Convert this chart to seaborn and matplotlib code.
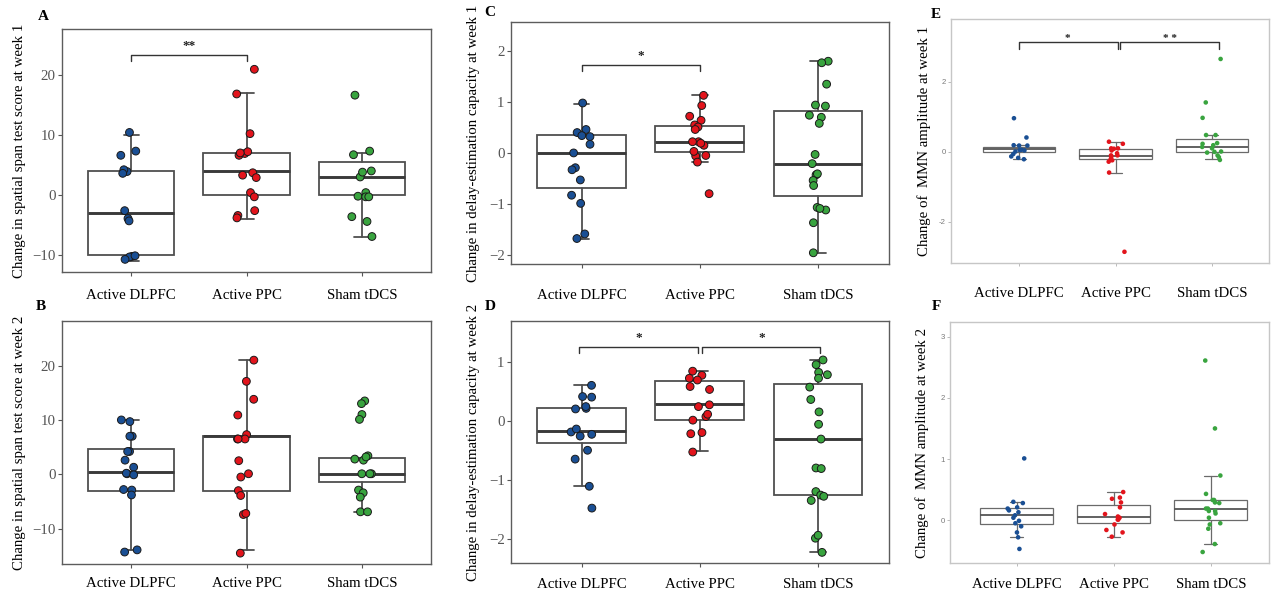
import numpy as np
import pandas as pd
import matplotlib
matplotlib.use("Agg")
import matplotlib.pyplot as plt
import seaborn as sns

sns.set_style("white")
plt.rcParams["font.family"] = ["Liberation Serif", "DejaVu Serif"]
plt.rcParams["axes.unicode_minus"] = True

groups = ["Active DLPFC", "Active PPC", "Sham tDCS"]
palette = ["#1a4f94", "#e2141c", "#39a43f"]

# ---------------- Panel A (spatial span, week 1)
A_dlpfc = [10.4, 7.3, 6.6, 3.9, 4.2, 3.6, -2.6, -3.9, -4.3, -10.2, -10.3, -10.1, -10.7]
A_ppc = [20.9, 16.8, 10.2, 6.9, 7.2, 6.6, 7.0, 3.7, 2.9, 3.3, 0.4, -0.3, -2.6, -3.4, -3.8]
A_sham = [16.6, 7.3, 6.7, 3.0, 4.0, 3.8, 0.4, -0.2, -0.3, -0.3, -3.6, -4.4, -6.9]
A_q1 = [-10, 0, 0]
A_med = [-3, 4, 3]
A_q3 = [4, 7, 5.5]
A_lo = [-11, -4, -7]
A_hi = [10, 17, 7]

# ---------------- Panel B (spatial span, week 2)
B_dlpfc = [9.7, 10.0, 7.0, 7.0, 4.2, 4.2, 2.6, 1.3, 0.1, 0.2, -0.1, -2.9, -2.8, -3.8, -14.3, -13.9]
B_ppc = [21.0, 17.1, 13.8, 10.9, 7.3, 6.5, 6.5, 6.5, 2.5, 0.1, -0.5, -3.0, -3.9, -7.4, -7.2, -14.5]
B_sham = [13.5, 13.0, 11.0, 10.1, 3.4, 2.6, 2.8, 3.2, 0.1, 0.1, 0.1, -2.9, -3.4, -4.2, -6.9, -6.9]
B_q1 = [-3, -3, -1.5]
B_med = [0.5, 7, 0]
B_q3 = [4.7, 7, 3]
B_lo = [-14, -14, -7]
B_hi = [10, 21, 3]

# ---------------- Panel C (delay-estimation, week 1)
C_dlpfc = [0.98, 0.46, 0.40, 0.34, 0.32, 0.17, 0.0, -0.29, -0.33, -0.53, -0.83, -0.99, -1.59, -1.68]
C_ppc = [1.13, 0.93, 0.72, 0.64, 0.55, 0.51, 0.46, 0.15, 0.22, 0.22, 0.19, -0.05, -0.06, 0.03, -0.18, -0.80]
C_sham = [1.80, 1.77, 1.35, 0.92, 0.94, 0.74, 0.70, 0.58, -0.03, -0.21, -0.43, -0.41, -0.54, -0.64,
          -1.07, -1.12, -1.09, -1.37, -1.96]
C_q1 = [-0.68, 0.01, -0.85]
C_med = [0.0, 0.21, -0.21]
C_q3 = [0.36, 0.53, 0.83]
C_lo = [-1.69, -0.17, -1.96]
C_hi = [0.97, 1.13, 1.80]

# ---------------- Panel D (delay-estimation, week 2)
D_dlpfc = [0.61, 0.42, 0.41, 0.22, 0.25, 0.21, -0.22, -0.18, -0.13, -0.25, -0.49, -0.64, -1.10, -1.47]
D_ppc = [0.85, 0.78, 0.73, 0.70, 0.59, 0.54, 0.25, 0.28, 0.08, 0.12, 0.02, -0.21, -0.19, -0.52]
D_sham = [1.04, 0.96, 0.83, 0.79, 0.73, 0.58, 0.37, 0.16, -0.05, -0.30, -0.79, -0.80, -1.19, -1.25,
          -1.27, -1.34, -1.98, -1.93, -2.22]
D_q1 = [-0.37, 0.02, -1.25]
D_med = [-0.17, 0.29, -0.30]
D_q3 = [0.23, 0.69, 0.64]
D_lo = [-1.10, -0.51, -2.22]
D_hi = [0.61, 0.85, 1.04]

# ---------------- Panel E (MMN, week 1)
E_dlpfc = [0.96, 0.41, 0.19, 0.18, 0.18, 0.06, 0.04, 0.05, 0.01, -0.06, -0.13, -0.21, -0.17]
E_ppc = [0.29, 0.23, 0.10, 0.09, 0.04, 0.10, -0.04, -0.10, -0.10, -0.13, -0.20, -0.24, -0.28, -0.59, -2.85]
E_sham = [2.65, 1.41, 0.97, 0.48, 0.48, 0.25, 0.23, 0.19, 0.14, 0.10, 0.0, 0.01, -0.02, -0.10, -0.15, -0.23]
E_q1 = [-0.01, -0.21, -0.01]
E_med = [0.07, -0.12, 0.15]
E_q3 = [0.15, 0.08, 0.36]
E_lo = [-0.20, -0.59, -0.21]
E_hi = [0.20, 0.29, 0.48]

# ---------------- Panel F (MMN, week 2)
F_dlpfc = [1.01, 0.30, 0.28, 0.19, 0.16, 0.13, 0.21, 0.08, 0.04, -0.01, -0.05, -0.10, -0.20, -0.28, -0.47]
F_ppc = [0.46, 0.37, 0.35, 0.29, 0.21, 0.10, 0.06, 0.04, 0.01, 0.01, -0.07, -0.16, -0.20, -0.27]
F_sham = [2.61, 1.50, 0.73, 0.43, 0.33, 0.33, 0.29, 0.28, 0.19, 0.19, 0.15, 0.11, 0.15, 0.04, -0.05,
          -0.07, -0.14, -0.39, -0.52]
F_q1 = [-0.07, -0.05, 0.0]
F_med = [0.08, 0.05, 0.19]
F_q3 = [0.20, 0.25, 0.33]
F_lo = [-0.28, -0.27, -0.39]
F_hi = [0.30, 0.46, 0.73]

W, H = 1282, 598
fig = plt.figure(figsize=(W / 100, H / 100), dpi=100)


def make_ax(l, r, t, b):
    return fig.add_axes([l / W, 1 - b / H, (r - l) / W, (b - t) / H])


def panel(ax, values, q1, med, q3, lo, hi, mmn=False, seed=0):
    df = pd.DataFrame({
        "group": np.repeat(groups, [len(v) for v in values]),
        "value": np.concatenate([np.asarray(v, float) for v in values]),
    })
    stats = [dict(q1=q1[i], med=med[i], q3=q3[i], whislo=lo[i], whishi=hi[i], fliers=[])
             for i in range(3)]
    if mmn:
        ec, lw, mc, mlw = "#6a6a6a", 0.9, "#555555", 1.3
    else:
        ec, lw, mc, mlw = "#4f4f4f", 1.3, "#3a3a3a", 2.1
    ax.bxp(stats, positions=[0, 1, 2], widths=0.75, capwidths=0.13, showfliers=False,
           patch_artist=True, manage_ticks=False,
           boxprops=dict(facecolor="white", edgecolor=ec, linewidth=lw),
           medianprops=dict(color=mc, linewidth=mlw),
           whiskerprops=dict(color=ec, linewidth=lw),
           capprops=dict(color=ec, linewidth=lw), zorder=2)
    np.random.seed(seed)
    if mmn:
        sns.stripplot(data=df, x="group", y="value", hue="group", order=groups, hue_order=groups,
                      palette=palette, jitter=0.1, size=3.3, linewidth=0, legend=False, ax=ax, zorder=3)
    else:
        sns.stripplot(data=df, x="group", y="value", hue="group", order=groups, hue_order=groups,
                      palette=palette, jitter=0.09, size=5.6, linewidth=0.7, edgecolor="#1a1a1a",
                      legend=False, ax=ax, zorder=3)
    ax.set_xlabel("")
    spc = "#c6c6c6" if mmn else "#5c5c5c"
    for s in ax.spines.values():
        s.set_visible(True)
        s.set_color(spc)
        s.set_linewidth(1.0)


def style(ax, ylabel, xlim, ylim, yticks, xpad, ylabelpad, mmn=False, yticklabels=None):
    ax.set_xlim(*xlim)
    ax.set_ylim(*ylim)
    ax.set_xticks([0, 1, 2])
    ax.set_xticklabels(groups)
    ax.set_yticks(yticks)
    if yticklabels is not None:
        ax.set_yticklabels(yticklabels)
    if mmn:
        ax.tick_params(axis="y", labelsize=5.6, labelcolor="#7a7a7a", color="#b0b0b0",
                       length=2, width=0.6, pad=1.5, left=True)
        ax.tick_params(axis="y", labelfontfamily="Liberation Sans")
        ax.tick_params(axis="x", labelsize=10.7, labelcolor="black", color="#b0b0b0",
                       length=2, width=0.6, pad=xpad, bottom=True)
    else:
        ax.tick_params(axis="y", labelsize=10.7, labelcolor="#555555", color="#555555",
                       length=3, width=0.8, pad=1.5, left=True)
        ax.tick_params(axis="x", labelsize=10.7, labelcolor="black", color="#555555",
                       length=3, width=0.8, pad=xpad, bottom=True)
    ax.set_ylabel(ylabel, fontsize=10.7, color="black", labelpad=ylabelpad)


def bracket(ax, x0, x1, ytop, ybot, text, xt, yt, fs=9.5):
    ax.plot([x0, x0, x1, x1], [ybot, ytop, ytop, ybot], color="#333333", lw=1.0, zorder=4,
            clip_on=False)
    ax.text(xt, yt, text, ha="center", va="center", fontsize=fs, color="#222222",
            fontweight="bold")


# A
axA = make_ax(62, 431, 29, 272)
panel(axA, [A_dlpfc, A_ppc, A_sham], A_q1, A_med, A_q3, A_lo, A_hi, seed=1)
style(axA, "Change in spatial span test score at week 1", (-0.6, 2.6), (-12.8, 27.6),
      [-10, 0, 10, 20], 9.1, 4.3)
bracket(axA, 0, 1, 23.2, 22.2, "**", 0.5, 24.8)

# B
axB = make_ax(62, 431, 321, 564)
panel(axB, [B_dlpfc, B_ppc, B_sham], B_q1, B_med, B_q3, B_lo, B_hi, seed=2)
style(axB, "Change in spatial span test score at week 2", (-0.6, 2.6), (-16.5, 28.2),
      [-10, 0, 10, 20], 6.7, 4.3)

# C
axC = make_ax(511, 889, 22, 264)
panel(axC, [C_dlpfc, C_ppc, C_sham], C_q1, C_med, C_q3, C_lo, C_hi, seed=3)
style(axC, "Change in delay-estimation capacity at week 1", (-0.597, 2.6), (-2.18, 2.57),
      [-2, -1, 0, 1, 2], 14.8, 6.5)
bracket(axC, 0, 1, 1.73, 1.61, "*", 0.5, 1.9)

# D
axD = make_ax(511, 889, 321, 563)
panel(axD, [D_dlpfc, D_ppc, D_sham], D_q1, D_med, D_q3, D_lo, D_hi, seed=4)
style(axD, "Change in delay-estimation capacity at week 2", (-0.597, 2.6), (-2.40, 1.70),
      [-2, -1, 0, 1], 8.1, 6.5)
bracket(axD, -0.02, 0.986, 1.26, 1.16, "*", 0.48, 1.42)
bracket(axD, 1.02, 2.02, 1.26, 1.16, "*", 1.52, 1.42)

# E
axE = make_ax(951, 1269, 19, 263)
panel(axE, [E_dlpfc, E_ppc, E_sham], E_q1, E_med, E_q3, E_lo, E_hi, mmn=True, seed=5)
style(axE, "Change of  MMN amplitude at week 1", (-0.71, 2.595), (-3.17, 3.79),
      [-2, 0, 2], 15.5, 5.8, mmn=True, yticklabels=["-2", "0", "2"])
bracket(axE, 0, 1.03, 3.12, 2.94, "*", 0.495, 3.22, fs=8)
bracket(axE, 1.05, 2.08, 3.12, 2.94, "* *", 1.57, 3.22, fs=8)

# F
axF = make_ax(950, 1269, 322, 563)
panel(axF, [F_dlpfc, F_ppc, F_sham], F_q1, F_med, F_q3, F_lo, F_hi, mmn=True, seed=6)
style(axF, "Change of  MMN amplitude at week 2", (-0.686, 2.6), (-0.70, 3.24),
      [0, 1, 2, 3], 9.1, 8.6, mmn=True, yticklabels=["0", "1", "2", "3"])

# panel letters
for letter, (px, py) in {"A": (43, 17), "B": (41, 307), "C": (490, 13), "D": (490, 307),
                         "E": (936, 14), "F": (936, 307)}.items():
    fig.text(px / W, 1 - py / H, letter, ha="center", va="center", fontsize=11,
             fontweight="bold", color="black")

fig.savefig("out.png", dpi=100, facecolor="white")
